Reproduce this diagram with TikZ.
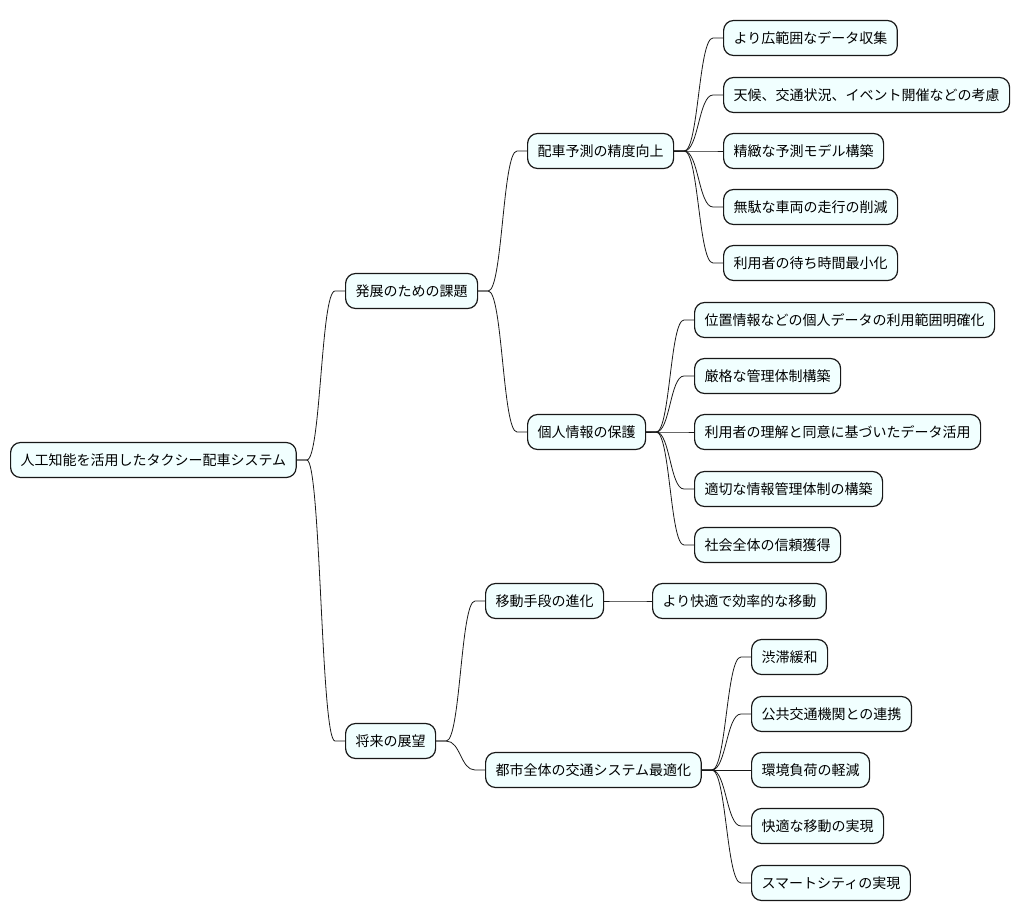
\documentclass[tikz,border=0pt]{standalone}
\usepackage{fontspec}
\setmainfont{Noto Sans CJK JP}
\usepackage{xcolor}
\usetikzlibrary{calc}

\definecolor{topicfill}{HTML}{F1FFFF}
\definecolor{topicline}{HTML}{181818}

\tikzset{
    topic/.style={draw=topicline, line width=1.2pt, fill=topicfill, rounded corners=10pt,
        anchor=west, minimum height=35pt, inner xsep=10pt, inner ysep=0pt,
        text height=12pt, text depth=2pt, font=\fontsize{14pt}{16pt}\selectfont},
    branch/.style={draw=topicline, line width=0.8pt,
        to path={let \p1=(\tikztostart.east), \p2=(\tikztotarget.west), \n1={0.5*(\x1+\x2)} in
            (\p1) -- ++(10pt,0) .. controls (\n1,\y1) and (\n1,\y2) .. (\x2-10pt,\y2) -- (\p2)}}
}

\begin{document}
\begin{tikzpicture}[x=1pt, y=-1pt]
    \useasboundingbox (0,0) rectangle (1020,921);

    % Root and first level
    \node[topic] (root) at (10,460) {人工知能を活用したタクシー配車システム};
    \node[topic] (task) at (345,291) {発展のための課題};
    \node[topic] (future) at (345,741) {将来の展望};

    % Second level
    \node[topic] (predict) at (527,151) {配車予測の精度向上};
    \node[topic] (privacy) at (527,432) {個人情報の保護};
    \node[topic] (mobility) at (485,601) {移動手段の進化};
    \node[topic] (city) at (485,770) {都市全体の交通システム最適化};

    % Leaves of the prediction branch
    \node[topic] (predA) at (723,38) {より広範囲なデータ収集};
    \node[topic] (predB) at (723,95) {天候、交通状況、イベント開催などの考慮};
    \node[topic] (predC) at (723,151) {精緻な予測モデル構築};
    \node[topic] (predD) at (723,207) {無駄な車両の走行の削減};
    \node[topic] (predE) at (723,263) {利用者の待ち時間最小化};

    % Leaves of the privacy branch
    \node[topic] (privA) at (694,320) {位置情報などの個人データの利用範囲明確化};
    \node[topic] (privB) at (694,376) {厳格な管理体制構築};
    \node[topic] (privC) at (694,432) {利用者の理解と同意に基づいたデータ活用};
    \node[topic] (privD) at (694,489) {適切な情報管理体制の構築};
    \node[topic] (privE) at (694,545) {社会全体の信頼獲得};

    % Leaves of the future branch
    \node[topic] (mobA) at (652,601) {より快適で効率的な移動};
    \node[topic] (cityA) at (751,657) {渋滞緩和};
    \node[topic] (cityB) at (751,714) {公共交通機関との連携};
    \node[topic] (cityC) at (751,770) {環境負荷の軽減};
    \node[topic] (cityD) at (751,826) {快適な移動の実現};
    \node[topic] (cityE) at (751,883) {スマートシティの実現};

    % Connectors
    \draw[branch] (root) to (task);
    \draw[branch] (root) to (future);
    \draw[branch] (task) to (predict);
    \draw[branch] (task) to (privacy);
    \draw[branch] (future) to (mobility);
    \draw[branch] (future) to (city);
    \foreach \leaf in {predA,predB,predC,predD,predE}
        \draw[branch] (predict) to (\leaf);
    \foreach \leaf in {privA,privB,privC,privD,privE}
        \draw[branch] (privacy) to (\leaf);
    \draw[branch] (mobility) to (mobA);
    \foreach \leaf in {cityA,cityB,cityC,cityD,cityE}
        \draw[branch] (city) to (\leaf);
\end{tikzpicture}
\end{document}
